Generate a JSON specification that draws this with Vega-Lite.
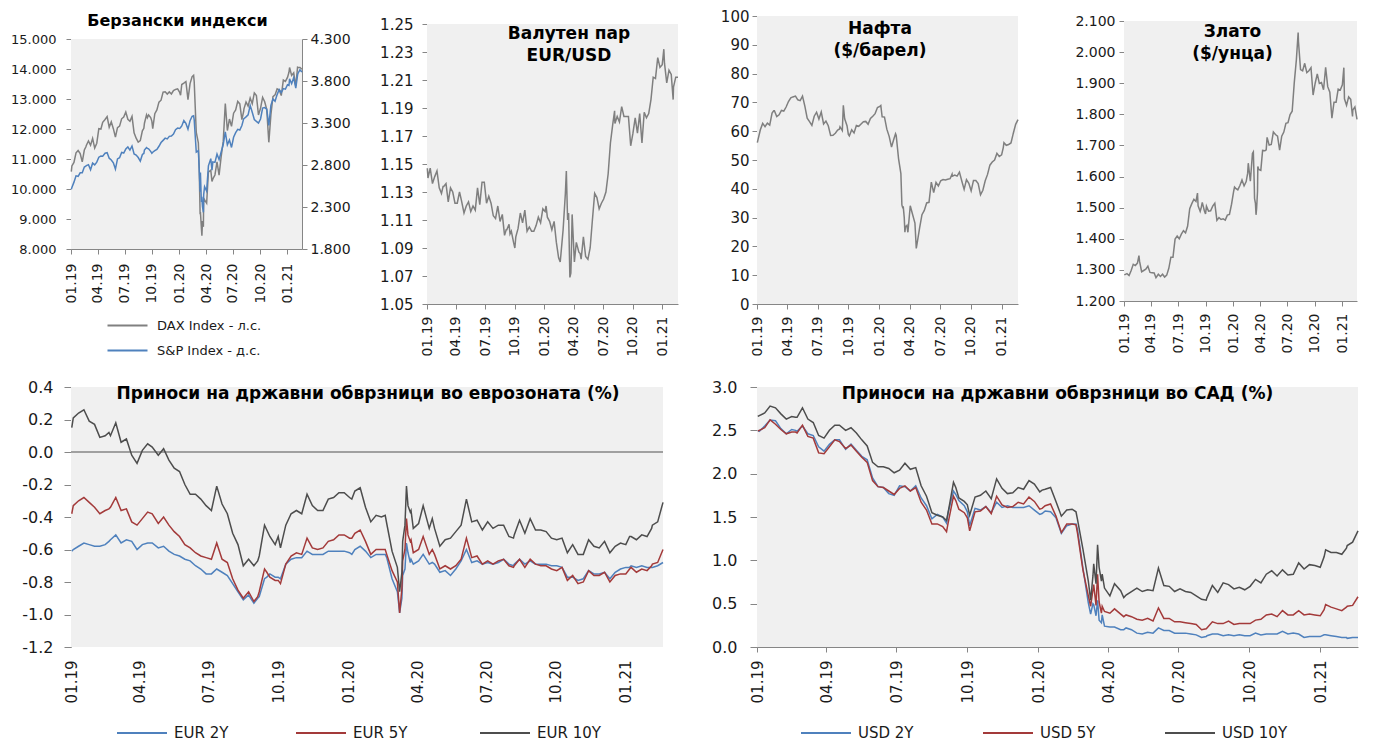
{
"$schema": "https://vega.github.io/schema/vega-lite/v6.json",
"background": "white",
"padding": {"left": 1, "top": 9, "right": 5, "bottom": 5},
"autosize": {"type": "pad"},
"data": {"values": [
{"d":"2019-01-02","dax":10580,"sp":2510,"fx":1.147,"oil":56.0,"au":1284,"e2":-0.61,"e5":-0.38,"e10":0.15,"u2":2.50,"u5":2.49,"u10":2.66},
{"d":"2019-01-04","dax":10767,"sp":2532,"fx":1.140,"oil":57.1,"au":1285,"e2":-0.60,"e5":-0.33,"e10":0.21,"u2":2.49,"u5":2.50,"u10":2.67},
{"d":"2019-01-11","dax":10888,"sp":2596,"fx":1.147,"oil":60.5,"au":1288,"e2":-0.58,"e5":-0.30,"e10":0.24,"u2":2.55,"u5":2.53,"u10":2.70},
{"d":"2019-01-18","dax":11205,"sp":2671,"fx":1.136,"oil":62.7,"au":1282,"e2":-0.56,"e5":-0.28,"e10":0.26,"u2":2.62,"u5":2.62,"u10":2.78},
{"d":"2019-01-25","dax":11281,"sp":2665,"fx":1.141,"oil":61.6,"au":1298,"e2":-0.57,"e5":-0.31,"e10":0.19,"u2":2.61,"u5":2.57,"u10":2.76},
{"d":"2019-02-01","dax":11181,"sp":2707,"fx":1.145,"oil":62.8,"au":1318,"e2":-0.58,"e5":-0.34,"e10":0.17,"u2":2.52,"u5":2.51,"u10":2.69},
{"d":"2019-02-08","dax":10906,"sp":2708,"fx":1.133,"oil":62.1,"au":1314,"e2":-0.58,"e5":-0.38,"e10":0.09,"u2":2.46,"u5":2.46,"u10":2.63},
{"d":"2019-02-15","dax":11299,"sp":2776,"fx":1.129,"oil":66.3,"au":1322,"e2":-0.57,"e5":-0.36,"e10":0.10,"u2":2.51,"u5":2.48,"u10":2.66},
{"d":"2019-02-20","dax":11401,"sp":2785,"fx":1.134,"oil":67.1,"au":1346,"e2":-0.55,"e5":-0.35,"e10":0.12,"u2":2.50,"u5":2.48,"u10":2.65},
{"d":"2019-02-22","dax":11457,"sp":2793,"fx":1.134,"oil":67.1,"au":1328,"e2":-0.54,"e5":-0.34,"e10":0.10,"u2":2.49,"u5":2.47,"u10":2.65},
{"d":"2019-03-01","dax":11602,"sp":2804,"fx":1.136,"oil":65.1,"au":1294,"e2":-0.51,"e5":-0.28,"e10":0.18,"u2":2.55,"u5":2.56,"u10":2.76},
{"d":"2019-03-08","dax":11458,"sp":2743,"fx":1.123,"oil":65.7,"au":1298,"e2":-0.56,"e5":-0.36,"e10":0.06,"u2":2.46,"u5":2.43,"u10":2.63},
{"d":"2019-03-15","dax":11686,"sp":2822,"fx":1.133,"oil":67.2,"au":1302,"e2":-0.54,"e5":-0.35,"e10":0.08,"u2":2.44,"u5":2.41,"u10":2.59},
{"d":"2019-03-22","dax":11364,"sp":2801,"fx":1.130,"oil":67.0,"au":1312,"e2":-0.55,"e5":-0.43,"e10":-0.02,"u2":2.31,"u5":2.24,"u10":2.44},
{"d":"2019-03-29","dax":11526,"sp":2834,"fx":1.122,"oil":68.4,"au":1292,"e2":-0.60,"e5":-0.45,"e10":-0.07,"u2":2.26,"u5":2.23,"u10":2.41},
{"d":"2019-04-05","dax":12010,"sp":2893,"fx":1.122,"oil":70.3,"au":1291,"e2":-0.57,"e5":-0.41,"e10":0.01,"u2":2.34,"u5":2.31,"u10":2.50},
{"d":"2019-04-12","dax":11999,"sp":2907,"fx":1.130,"oil":71.6,"au":1290,"e2":-0.56,"e5":-0.37,"e10":0.05,"u2":2.39,"u5":2.39,"u10":2.56},
{"d":"2019-04-18","dax":12222,"sp":2905,"fx":1.124,"oil":71.9,"au":1275,"e2":-0.56,"e5":-0.38,"e10":0.03,"u2":2.39,"u5":2.37,"u10":2.56},
{"d":"2019-04-26","dax":12315,"sp":2940,"fx":1.115,"oil":72.2,"au":1286,"e2":-0.59,"e5":-0.44,"e10":-0.02,"u2":2.28,"u5":2.29,"u10":2.50},
{"d":"2019-05-03","dax":12413,"sp":2946,"fx":1.120,"oil":70.9,"au":1279,"e2":-0.58,"e5":-0.40,"e10":0.02,"u2":2.34,"u5":2.33,"u10":2.53},
{"d":"2019-05-10","dax":12060,"sp":2881,"fx":1.123,"oil":70.6,"au":1286,"e2":-0.61,"e5":-0.45,"e10":-0.05,"u2":2.27,"u5":2.26,"u10":2.47},
{"d":"2019-05-17","dax":12238,"sp":2860,"fx":1.116,"oil":72.2,"au":1277,"e2":-0.63,"e5":-0.49,"e10":-0.10,"u2":2.20,"u5":2.19,"u10":2.39},
{"d":"2019-05-24","dax":12011,"sp":2826,"fx":1.120,"oil":68.7,"au":1283,"e2":-0.64,"e5":-0.52,"e10":-0.12,"u2":2.16,"u5":2.13,"u10":2.32},
{"d":"2019-05-31","dax":11727,"sp":2752,"fx":1.117,"oil":64.5,"au":1305,"e2":-0.66,"e5":-0.57,"e10":-0.20,"u2":1.95,"u5":1.92,"u10":2.13},
{"d":"2019-06-07","dax":12045,"sp":2873,"fx":1.133,"oil":63.3,"au":1341,"e2":-0.67,"e5":-0.59,"e10":-0.26,"u2":1.85,"u5":1.85,"u10":2.08},
{"d":"2019-06-14","dax":12096,"sp":2887,"fx":1.121,"oil":62.0,"au":1341,"e2":-0.70,"e5":-0.62,"e10":-0.26,"u2":1.84,"u5":1.84,"u10":2.08},
{"d":"2019-06-21","dax":12340,"sp":2950,"fx":1.137,"oil":65.2,"au":1399,"e2":-0.72,"e5":-0.64,"e10":-0.29,"u2":1.77,"u5":1.80,"u10":2.06},
{"d":"2019-06-28","dax":12399,"sp":2942,"fx":1.137,"oil":66.6,"au":1409,"e2":-0.75,"e5":-0.65,"e10":-0.33,"u2":1.75,"u5":1.76,"u10":2.01},
{"d":"2019-07-05","dax":12568,"sp":2990,"fx":1.122,"oil":64.2,"au":1400,"e2":-0.75,"e5":-0.66,"e10":-0.36,"u2":1.86,"u5":1.83,"u10":2.04},
{"d":"2019-07-12","dax":12323,"sp":3014,"fx":1.127,"oil":66.7,"au":1415,"e2":-0.72,"e5":-0.56,"e10":-0.21,"u2":1.85,"u5":1.86,"u10":2.12},
{"d":"2019-07-19","dax":12260,"sp":2977,"fx":1.122,"oil":62.5,"au":1426,"e2":-0.74,"e5":-0.66,"e10":-0.32,"u2":1.80,"u5":1.80,"u10":2.05},
{"d":"2019-07-26","dax":12419,"sp":3026,"fx":1.113,"oil":63.5,"au":1419,"e2":-0.76,"e5":-0.68,"e10":-0.38,"u2":1.86,"u5":1.84,"u10":2.07},
{"d":"2019-08-02","dax":11872,"sp":2932,"fx":1.111,"oil":61.9,"au":1441,"e2":-0.81,"e5":-0.78,"e10":-0.50,"u2":1.72,"u5":1.67,"u10":1.86},
{"d":"2019-08-09","dax":11693,"sp":2919,"fx":1.120,"oil":58.5,"au":1497,"e2":-0.86,"e5":-0.85,"e10":-0.57,"u2":1.63,"u5":1.58,"u10":1.74},
{"d":"2019-08-16","dax":11562,"sp":2889,"fx":1.109,"oil":58.6,"au":1513,"e2":-0.91,"e5":-0.90,"e10":-0.70,"u2":1.48,"u5":1.42,"u10":1.55},
{"d":"2019-08-23","dax":11612,"sp":2847,"fx":1.114,"oil":59.3,"au":1527,"e2":-0.88,"e5":-0.86,"e10":-0.66,"u2":1.53,"u5":1.42,"u10":1.52},
{"d":"2019-08-30","dax":11939,"sp":2926,"fx":1.099,"oil":60.4,"au":1520,"e2":-0.93,"e5":-0.92,"e10":-0.70,"u2":1.50,"u5":1.39,"u10":1.50},
{"d":"2019-09-04","dax":12025,"sp":2937,"fx":1.103,"oil":60.7,"au":1547,"e2":-0.90,"e5":-0.89,"e10":-0.67,"u2":1.43,"u5":1.33,"u10":1.46},
{"d":"2019-09-06","dax":12192,"sp":2979,"fx":1.103,"oil":61.5,"au":1506,"e2":-0.89,"e5":-0.86,"e10":-0.64,"u2":1.55,"u5":1.43,"u10":1.55},
{"d":"2019-09-13","dax":12469,"sp":3007,"fx":1.107,"oil":60.2,"au":1488,"e2":-0.78,"e5":-0.72,"e10":-0.45,"u2":1.80,"u5":1.74,"u10":1.90},
{"d":"2019-09-16","dax":12380,"sp":2998,"fx":1.100,"oil":69.0,"au":1498,"e2":-0.77,"e5":-0.74,"e10":-0.48,"u2":1.76,"u5":1.69,"u10":1.84},
{"d":"2019-09-20","dax":12468,"sp":2992,"fx":1.102,"oil":64.3,"au":1517,"e2":-0.75,"e5":-0.77,"e10":-0.52,"u2":1.69,"u5":1.59,"u10":1.72},
{"d":"2019-09-27","dax":12381,"sp":2962,"fx":1.094,"oil":61.9,"au":1490,"e2":-0.77,"e5":-0.79,"e10":-0.57,"u2":1.63,"u5":1.55,"u10":1.68},
{"d":"2019-10-01","dax":12263,"sp":2940,"fx":1.090,"oil":58.9,"au":1480,"e2":-0.77,"e5":-0.79,"e10":-0.52,"u2":1.56,"u5":1.49,"u10":1.64},
{"d":"2019-10-04","dax":12013,"sp":2952,"fx":1.098,"oil":58.4,"au":1505,"e2":-0.78,"e5":-0.81,"e10":-0.59,"u2":1.40,"u5":1.34,"u10":1.52},
{"d":"2019-10-11","dax":12512,"sp":2970,"fx":1.104,"oil":60.5,"au":1489,"e2":-0.69,"e5":-0.69,"e10":-0.45,"u2":1.60,"u5":1.56,"u10":1.73},
{"d":"2019-10-18","dax":12634,"sp":2986,"fx":1.115,"oil":59.4,"au":1490,"e2":-0.66,"e5":-0.64,"e10":-0.38,"u2":1.58,"u5":1.57,"u10":1.75},
{"d":"2019-10-25","dax":12895,"sp":3023,"fx":1.108,"oil":62.0,"au":1505,"e2":-0.65,"e5":-0.62,"e10":-0.36,"u2":1.62,"u5":1.62,"u10":1.80},
{"d":"2019-11-01","dax":12961,"sp":3067,"fx":1.117,"oil":61.7,"au":1514,"e2":-0.65,"e5":-0.63,"e10":-0.38,"u2":1.55,"u5":1.54,"u10":1.71},
{"d":"2019-11-08","dax":13229,"sp":3093,"fx":1.102,"oil":62.5,"au":1459,"e2":-0.61,"e5":-0.53,"e10":-0.26,"u2":1.67,"u5":1.74,"u10":1.94},
{"d":"2019-11-15","dax":13242,"sp":3120,"fx":1.105,"oil":63.3,"au":1468,"e2":-0.63,"e5":-0.59,"e10":-0.33,"u2":1.61,"u5":1.64,"u10":1.83},
{"d":"2019-11-22","dax":13164,"sp":3110,"fx":1.102,"oil":63.4,"au":1462,"e2":-0.63,"e5":-0.60,"e10":-0.36,"u2":1.63,"u5":1.61,"u10":1.77},
{"d":"2019-11-29","dax":13236,"sp":3141,"fx":1.102,"oil":62.4,"au":1464,"e2":-0.63,"e5":-0.59,"e10":-0.36,"u2":1.61,"u5":1.62,"u10":1.78},
{"d":"2019-12-06","dax":13167,"sp":3146,"fx":1.106,"oil":64.4,"au":1460,"e2":-0.61,"e5":-0.55,"e10":-0.29,"u2":1.61,"u5":1.67,"u10":1.84},
{"d":"2019-12-13","dax":13283,"sp":3169,"fx":1.112,"oil":65.2,"au":1476,"e2":-0.61,"e5":-0.54,"e10":-0.28,"u2":1.61,"u5":1.65,"u10":1.82},
{"d":"2019-12-20","dax":13319,"sp":3221,"fx":1.108,"oil":66.1,"au":1478,"e2":-0.61,"e5":-0.51,"e10":-0.25,"u2":1.63,"u5":1.73,"u10":1.92},
{"d":"2019-12-27","dax":13337,"sp":3240,"fx":1.118,"oil":68.2,"au":1511,"e2":-0.61,"e5":-0.51,"e10":-0.25,"u2":1.58,"u5":1.68,"u10":1.88},
{"d":"2020-01-03","dax":13219,"sp":3235,"fx":1.116,"oil":68.6,"au":1552,"e2":-0.62,"e5":-0.53,"e10":-0.28,"u2":1.53,"u5":1.59,"u10":1.79},
{"d":"2020-01-06","dax":13127,"sp":3246,"fx":1.120,"oil":68.9,"au":1566,"e2":-0.63,"e5":-0.53,"e10":-0.29,"u2":1.54,"u5":1.60,"u10":1.81},
{"d":"2020-01-10","dax":13483,"sp":3265,"fx":1.112,"oil":65.0,"au":1562,"e2":-0.60,"e5":-0.50,"e10":-0.24,"u2":1.57,"u5":1.63,"u10":1.82},
{"d":"2020-01-17","dax":13526,"sp":3330,"fx":1.109,"oil":64.9,"au":1557,"e2":-0.58,"e5":-0.48,"e10":-0.22,"u2":1.56,"u5":1.65,"u10":1.84},
{"d":"2020-01-24","dax":13577,"sp":3295,"fx":1.103,"oil":60.7,"au":1571,"e2":-0.61,"e5":-0.55,"e10":-0.34,"u2":1.49,"u5":1.51,"u10":1.68},
{"d":"2020-01-31","dax":12982,"sp":3226,"fx":1.109,"oil":58.2,"au":1589,"e2":-0.65,"e5":-0.63,"e10":-0.43,"u2":1.31,"u5":1.32,"u10":1.51},
{"d":"2020-02-07","dax":13514,"sp":3328,"fx":1.094,"oil":54.5,"au":1570,"e2":-0.63,"e5":-0.60,"e10":-0.39,"u2":1.40,"u5":1.42,"u10":1.58},
{"d":"2020-02-14","dax":13745,"sp":3380,"fx":1.083,"oil":57.3,"au":1584,"e2":-0.63,"e5":-0.60,"e10":-0.40,"u2":1.42,"u5":1.42,"u10":1.59},
{"d":"2020-02-19","dax":13789,"sp":3386,"fx":1.080,"oil":59.1,"au":1611,"e2":-0.63,"e5":-0.60,"e10":-0.39,"u2":1.42,"u5":1.41,"u10":1.56},
{"d":"2020-02-21","dax":13579,"sp":3338,"fx":1.085,"oil":58.5,"au":1643,"e2":-0.65,"e5":-0.63,"e10":-0.44,"u2":1.35,"u5":1.31,"u10":1.47},
{"d":"2020-02-28","dax":11890,"sp":2954,"fx":1.103,"oil":50.5,"au":1585,"e2":-0.78,"e5":-0.73,"e10":-0.61,"u2":0.91,"u5":0.89,"u10":1.13},
{"d":"2020-03-06","dax":11542,"sp":2972,"fx":1.129,"oil":45.3,"au":1674,"e2":-0.86,"e5":-0.80,"e10":-0.71,"u2":0.51,"u5":0.59,"u10":0.76},
{"d":"2020-03-09","dax":10625,"sp":2747,"fx":1.145,"oil":34.4,"au":1679,"e2":-0.99,"e5":-0.99,"e10":-0.86,"u2":0.38,"u5":0.47,"u10":0.54},
{"d":"2020-03-12","dax":9161,"sp":2481,"fx":1.118,"oil":33.2,"au":1576,"e2":-0.90,"e5":-0.84,"e10":-0.74,"u2":0.50,"u5":0.66,"u10":0.82},
{"d":"2020-03-13","dax":9232,"sp":2711,"fx":1.110,"oil":33.9,"au":1530,"e2":-0.76,"e5":-0.67,"e10":-0.55,"u2":0.49,"u5":0.72,"u10":0.96},
{"d":"2020-03-16","dax":8742,"sp":2386,"fx":1.115,"oil":30.1,"au":1514,"e2":-0.72,"e5":-0.60,"e10":-0.45,"u2":0.36,"u5":0.48,"u10":0.73},
{"d":"2020-03-18","dax":8442,"sp":2398,"fx":1.092,"oil":24.9,"au":1477,"e2":-0.56,"e5":-0.41,"e10":-0.21,"u2":0.54,"u5":0.84,"u10":1.18},
{"d":"2020-03-20","dax":8929,"sp":2305,"fx":1.069,"oil":27.0,"au":1498,"e2":-0.62,"e5":-0.51,"e10":-0.33,"u2":0.31,"u5":0.52,"u10":0.92},
{"d":"2020-03-23","dax":8741,"sp":2237,"fx":1.072,"oil":27.0,"au":1553,"e2":-0.68,"e5":-0.55,"e10":-0.37,"u2":0.28,"u5":0.39,"u10":0.76},
{"d":"2020-03-24","dax":9700,"sp":2447,"fx":1.080,"oil":27.2,"au":1632,"e2":-0.66,"e5":-0.54,"e10":-0.36,"u2":0.37,"u5":0.47,"u10":0.84},
{"d":"2020-03-27","dax":9633,"sp":2541,"fx":1.114,"oil":24.9,"au":1623,"e2":-0.69,"e5":-0.62,"e10":-0.47,"u2":0.24,"u5":0.41,"u10":0.68},
{"d":"2020-04-03","dax":9526,"sp":2489,"fx":1.080,"oil":34.1,"au":1620,"e2":-0.67,"e5":-0.60,"e10":-0.44,"u2":0.23,"u5":0.39,"u10":0.59},
{"d":"2020-04-09","dax":10565,"sp":2790,"fx":1.094,"oil":31.5,"au":1684,"e2":-0.63,"e5":-0.52,"e10":-0.33,"u2":0.23,"u5":0.44,"u10":0.73},
{"d":"2020-04-17","dax":10626,"sp":2875,"fx":1.087,"oil":28.1,"au":1683,"e2":-0.69,"e5":-0.63,"e10":-0.47,"u2":0.20,"u5":0.38,"u10":0.65},
{"d":"2020-04-21","dax":10249,"sp":2737,"fx":1.086,"oil":19.3,"au":1686,"e2":-0.68,"e5":-0.60,"e10":-0.41,"u2":0.20,"u5":0.35,"u10":0.57},
{"d":"2020-04-24","dax":10336,"sp":2837,"fx":1.082,"oil":21.4,"au":1726,"e2":-0.69,"e5":-0.63,"e10":-0.47,"u2":0.22,"u5":0.37,"u10":0.60},
{"d":"2020-05-01","dax":10467,"sp":2831,"fx":1.098,"oil":26.4,"au":1701,"e2":-0.74,"e5":-0.72,"e10":-0.58,"u2":0.20,"u5":0.35,"u10":0.64},
{"d":"2020-05-08","dax":10904,"sp":2930,"fx":1.084,"oil":31.0,"au":1703,"e2":-0.73,"e5":-0.70,"e10":-0.54,"u2":0.16,"u5":0.32,"u10":0.68},
{"d":"2020-05-15","dax":10465,"sp":2864,"fx":1.082,"oil":32.5,"au":1743,"e2":-0.76,"e5":-0.72,"e10":-0.53,"u2":0.15,"u5":0.31,"u10":0.64},
{"d":"2020-05-22","dax":11074,"sp":2955,"fx":1.090,"oil":35.1,"au":1735,"e2":-0.72,"e5":-0.70,"e10":-0.49,"u2":0.17,"u5":0.33,"u10":0.66},
{"d":"2020-05-29","dax":11587,"sp":3044,"fx":1.110,"oil":35.3,"au":1730,"e2":-0.67,"e5":-0.66,"e10":-0.45,"u2":0.16,"u5":0.30,"u10":0.65},
{"d":"2020-06-05","dax":12848,"sp":3194,"fx":1.129,"oil":42.3,"au":1685,"e2":-0.60,"e5":-0.53,"e10":-0.29,"u2":0.22,"u5":0.45,"u10":0.91},
{"d":"2020-06-12","dax":11949,"sp":3041,"fx":1.126,"oil":38.7,"au":1730,"e2":-0.68,"e5":-0.65,"e10":-0.43,"u2":0.19,"u5":0.33,"u10":0.71},
{"d":"2020-06-19","dax":12331,"sp":3098,"fx":1.118,"oil":42.2,"au":1743,"e2":-0.67,"e5":-0.64,"e10":-0.42,"u2":0.19,"u5":0.33,"u10":0.70},
{"d":"2020-06-26","dax":12089,"sp":3009,"fx":1.122,"oil":41.0,"au":1771,"e2":-0.69,"e5":-0.69,"e10":-0.48,"u2":0.16,"u5":0.29,"u10":0.64},
{"d":"2020-07-03","dax":12528,"sp":3130,"fx":1.125,"oil":42.8,"au":1773,"e2":-0.68,"e5":-0.67,"e10":-0.43,"u2":0.16,"u5":0.29,"u10":0.67},
{"d":"2020-07-10","dax":12633,"sp":3185,"fx":1.130,"oil":43.2,"au":1799,"e2":-0.69,"e5":-0.69,"e10":-0.47,"u2":0.16,"u5":0.28,"u10":0.64},
{"d":"2020-07-17","dax":12920,"sp":3225,"fx":1.143,"oil":43.1,"au":1810,"e2":-0.68,"e5":-0.67,"e10":-0.45,"u2":0.15,"u5":0.27,"u10":0.63},
{"d":"2020-07-24","dax":12838,"sp":3216,"fx":1.165,"oil":43.3,"au":1902,"e2":-0.66,"e5":-0.66,"e10":-0.45,"u2":0.14,"u5":0.26,"u10":0.59},
{"d":"2020-07-31","dax":12313,"sp":3271,"fx":1.178,"oil":43.5,"au":1975,"e2":-0.69,"e5":-0.70,"e10":-0.52,"u2":0.11,"u5":0.20,"u10":0.55},
{"d":"2020-08-06","dax":12591,"sp":3349,"fx":1.188,"oil":45.1,"au":2063,"e2":-0.70,"e5":-0.71,"e10":-0.53,"u2":0.12,"u5":0.21,"u10":0.54},
{"d":"2020-08-07","dax":12674,"sp":3351,"fx":1.179,"oil":44.4,"au":2035,"e2":-0.69,"e5":-0.70,"e10":-0.51,"u2":0.13,"u5":0.22,"u10":0.57},
{"d":"2020-08-14","dax":12901,"sp":3373,"fx":1.184,"oil":44.8,"au":1944,"e2":-0.66,"e5":-0.66,"e10":-0.42,"u2":0.15,"u5":0.29,"u10":0.71},
{"d":"2020-08-21","dax":12765,"sp":3397,"fx":1.180,"oil":44.4,"au":1940,"e2":-0.69,"e5":-0.71,"e10":-0.50,"u2":0.15,"u5":0.27,"u10":0.63},
{"d":"2020-08-28","dax":13033,"sp":3508,"fx":1.191,"oil":45.8,"au":1964,"e2":-0.67,"e5":-0.66,"e10":-0.41,"u2":0.13,"u5":0.27,"u10":0.74},
{"d":"2020-09-04","dax":12842,"sp":3427,"fx":1.184,"oil":42.7,"au":1934,"e2":-0.69,"e5":-0.69,"e10":-0.48,"u2":0.14,"u5":0.30,"u10":0.72},
{"d":"2020-09-11","dax":13203,"sp":3341,"fx":1.184,"oil":39.8,"au":1940,"e2":-0.69,"e5":-0.70,"e10":-0.48,"u2":0.13,"u5":0.26,"u10":0.67},
{"d":"2020-09-18","dax":13116,"sp":3319,"fx":1.184,"oil":43.2,"au":1950,"e2":-0.69,"e5":-0.70,"e10":-0.49,"u2":0.14,"u5":0.27,"u10":0.69},
{"d":"2020-09-25","dax":12469,"sp":3298,"fx":1.163,"oil":41.9,"au":1862,"e2":-0.70,"e5":-0.72,"e10":-0.53,"u2":0.13,"u5":0.27,"u10":0.66},
{"d":"2020-10-02","dax":12689,"sp":3348,"fx":1.172,"oil":39.3,"au":1900,"e2":-0.70,"e5":-0.73,"e10":-0.54,"u2":0.13,"u5":0.27,"u10":0.70},
{"d":"2020-10-09","dax":13051,"sp":3477,"fx":1.183,"oil":42.9,"au":1930,"e2":-0.71,"e5":-0.71,"e10":-0.53,"u2":0.16,"u5":0.31,"u10":0.78},
{"d":"2020-10-16","dax":12909,"sp":3484,"fx":1.172,"oil":42.9,"au":1899,"e2":-0.77,"e5":-0.79,"e10":-0.62,"u2":0.14,"u5":0.32,"u10":0.74},
{"d":"2020-10-23","dax":12646,"sp":3465,"fx":1.186,"oil":41.8,"au":1902,"e2":-0.77,"e5":-0.76,"e10":-0.57,"u2":0.15,"u5":0.37,"u10":0.84},
{"d":"2020-10-30","dax":11556,"sp":3270,"fx":1.165,"oil":37.9,"au":1879,"e2":-0.79,"e5":-0.81,"e10":-0.63,"u2":0.15,"u5":0.38,"u10":0.88},
{"d":"2020-11-06","dax":12480,"sp":3510,"fx":1.187,"oil":39.5,"au":1951,"e2":-0.78,"e5":-0.80,"e10":-0.63,"u2":0.15,"u5":0.35,"u10":0.82},
{"d":"2020-11-13","dax":13077,"sp":3585,"fx":1.183,"oil":42.8,"au":1889,"e2":-0.73,"e5":-0.73,"e10":-0.54,"u2":0.18,"u5":0.42,"u10":0.89},
{"d":"2020-11-20","dax":13137,"sp":3558,"fx":1.186,"oil":45.0,"au":1871,"e2":-0.75,"e5":-0.76,"e10":-0.58,"u2":0.15,"u5":0.37,"u10":0.83},
{"d":"2020-11-27","dax":13335,"sp":3638,"fx":1.196,"oil":48.2,"au":1788,"e2":-0.75,"e5":-0.76,"e10":-0.59,"u2":0.16,"u5":0.37,"u10":0.84},
{"d":"2020-12-04","dax":13298,"sp":3699,"fx":1.212,"oil":49.3,"au":1839,"e2":-0.74,"e5":-0.74,"e10":-0.55,"u2":0.15,"u5":0.42,"u10":0.97},
{"d":"2020-12-11","dax":13114,"sp":3663,"fx":1.211,"oil":50.0,"au":1839,"e2":-0.78,"e5":-0.80,"e10":-0.62,"u2":0.11,"u5":0.37,"u10":0.90},
{"d":"2020-12-18","dax":13631,"sp":3709,"fx":1.226,"oil":52.3,"au":1881,"e2":-0.74,"e5":-0.76,"e10":-0.58,"u2":0.12,"u5":0.38,"u10":0.95},
{"d":"2020-12-25","dax":13587,"sp":3703,"fx":1.219,"oil":51.2,"au":1878,"e2":-0.72,"e5":-0.75,"e10":-0.56,"u2":0.12,"u5":0.37,"u10":0.94},
{"d":"2021-01-01","dax":13719,"sp":3756,"fx":1.221,"oil":51.8,"au":1895,"e2":-0.71,"e5":-0.75,"e10":-0.57,"u2":0.12,"u5":0.36,"u10":0.92},
{"d":"2021-01-06","dax":13892,"sp":3748,"fx":1.232,"oil":54.3,"au":1950,"e2":-0.71,"e5":-0.72,"e10":-0.52,"u2":0.14,"u5":0.43,"u10":1.04},
{"d":"2021-01-08","dax":14050,"sp":3825,"fx":1.222,"oil":56.0,"au":1850,"e2":-0.70,"e5":-0.71,"e10":-0.52,"u2":0.14,"u5":0.49,"u10":1.12},
{"d":"2021-01-15","dax":13787,"sp":3768,"fx":1.208,"oil":55.1,"au":1829,"e2":-0.71,"e5":-0.74,"e10":-0.54,"u2":0.13,"u5":0.46,"u10":1.09},
{"d":"2021-01-22","dax":13873,"sp":3841,"fx":1.217,"oil":55.4,"au":1856,"e2":-0.70,"e5":-0.72,"e10":-0.51,"u2":0.12,"u5":0.44,"u10":1.09},
{"d":"2021-01-29","dax":13433,"sp":3714,"fx":1.214,"oil":55.9,"au":1848,"e2":-0.71,"e5":-0.73,"e10":-0.52,"u2":0.11,"u5":0.42,"u10":1.07},
{"d":"2021-02-04","dax":14060,"sp":3871,"fx":1.196,"oil":58.8,"au":1793,"e2":-0.71,"e5":-0.70,"e10":-0.47,"u2":0.11,"u5":0.46,"u10":1.14},
{"d":"2021-02-05","dax":14057,"sp":3887,"fx":1.205,"oil":59.3,"au":1814,"e2":-0.71,"e5":-0.69,"e10":-0.45,"u2":0.10,"u5":0.47,"u10":1.17},
{"d":"2021-02-12","dax":14050,"sp":3934,"fx":1.212,"oil":62.4,"au":1824,"e2":-0.70,"e5":-0.68,"e10":-0.43,"u2":0.11,"u5":0.48,"u10":1.21},
{"d":"2021-02-19","dax":13993,"sp":3907,"fx":1.212,"oil":64.0,"au":1784,"e2":-0.68,"e5":-0.60,"e10":-0.31,"u2":0.11,"u5":0.58,"u10":1.34}
]},
"config": {
  "view": {"fill": null, "stroke": null},
  "font": "DejaVu Sans",
  "axis": {"grid": false, "domainColor": "#868686", "tickColor": "#868686", "tickSize": 5, "labelFont": "DejaVu Sans", "labelFontSize": 14, "labelColor": "#1a1a1a", "labelFlush": false, "labelOverlap": false, "labelPadding": 3},
  "title": {"font": "DejaVu Sans", "fontWeight": "bold", "fontSize": 17, "color": "#000000", "anchor": "middle", "frame": "group", "lineHeight": 22},
  "legend": {"labelFont": "DejaVu Sans", "labelFontSize": 13, "labelColor": "#1a1a1a", "symbolStrokeWidth": 2, "title": null, "padding": 0}
},
"spacing": 21,
"resolve": {"scale": {"color": "independent"}},
"vconcat": [
 {"hconcat": [
 {"width": 301, "height": 233,
  "title": {"text": "Берзански индекси", "offset": -13, "dx": 26, "fontSize": 16},
  "layer": [
    {"layer": [
      {"data": {"values": [{"a": 0}]}, "mark": {"type": "rect", "color": "#f0f0f0"},
       "encoding": {
         "x": {"datum": {"year": 2019, "month": 1, "date": 1}, "type": "temporal", "scale": {"domain": [{"year": 2019, "month": 1, "date": 1}, {"year": 2021, "month": 2, "date": 19}], "range": [70, 301]}, "axis": {"title": null, "format": "%m.%y", "tickCount": {"interval": "month", "step": 3}, "labelAngle": 270, "labelPadding": 9, "labelOverlap": false}},
         "x2": {"datum": {"year": 2021, "month": 2, "date": 19}},
         "y": {"datum": 8000, "type": "quantitative", "scale": {"domain": [8000, 15000], "range": [233, 23], "nice": false, "zero": false}, "axis": {"title": null, "offset": -70, "values": [8000, 9000, 10000, 11000, 12000, 13000, 14000, 15000], "labelExpr": "replace(format(datum.value, ',.0f'), ',', '.')", "labelFontSize": 13, "labelPadding": 10, "labelOverlap": false}},
         "y2": {"datum": 15000}
       }},
      {"mark": {"type": "line", "strokeWidth": 1.5},
       "encoding": {
         "x": {"field": "d", "type": "temporal", "scale": {"domain": [{"year": 2019, "month": 1, "date": 1}, {"year": 2021, "month": 2, "date": 19}], "range": [70, 301]}, "axis": {"title": null, "format": "%m.%y", "tickCount": {"interval": "month", "step": 3}, "labelAngle": 270, "labelPadding": 9, "labelOverlap": false}},
         "y": {"field": "dax", "type": "quantitative", "scale": {"domain": [8000, 15000], "range": [233, 23], "nice": false, "zero": false}, "axis": {"title": null, "offset": -70, "values": [8000, 9000, 10000, 11000, 12000, 13000, 14000, 15000], "labelExpr": "replace(format(datum.value, ',.0f'), ',', '.')", "labelFontSize": 13, "labelPadding": 10, "labelOverlap": false}},
         "color": {"datum": "DAX Index - л.с.", "type": "nominal", "scale": {"domain": ["DAX Index - л.с.", "S&P Index - д.с."], "range": ["#808080", "#4f81bd"]},
           "legend": {"orient": "none", "legendX": 113, "legendY": 296, "direction": "vertical", "symbolType": "M-1.6,0H1.6", "symbolSize": 625, "labelOffset": 16, "rowPadding": 4}}
       }}
    ]},
    {"mark": {"type": "line", "strokeWidth": 1.5},
     "encoding": {
       "x": {"field": "d", "type": "temporal"},
       "y": {"field": "sp", "type": "quantitative", "scale": {"domain": [1800, 4300], "range": [233, 23], "nice": false, "zero": false}, "axis": {"title": null, "orient": "right", "values": [1800, 2300, 2800, 3300, 3800, 4300], "labelExpr": "replace(format(datum.value, ',.0f'), ',', '.')", "labelPadding": 3, "labelOverlap": false}},
       "color": {"datum": "S&P Index - д.с.", "type": "nominal"}
     }}
  ],
  "resolve": {"scale": {"y": "independent"}}
 },
 {"width": 356, "height": 288,
  "title": {"text": ["Валутен пар", "EUR/USD"], "offset": -49, "dx": 69},
  "layer": [
    {"data": {"values": [{"a": 0}]}, "mark": {"type": "rect", "color": "#f0f0f0"},
     "encoding": {
       "x": {"datum": {"year": 2019, "month": 1, "date": 1}, "type": "temporal", "scale": {"domain": [{"year": 2019, "month": 1, "date": 1}, {"year": 2021, "month": 2, "date": 19}], "range": [105, 356]}, "axis": {"title": null, "format": "%m.%y", "tickCount": {"interval": "month", "step": 3}, "labelAngle": 270, "labelPadding": 7, "labelOverlap": false}},
       "x2": {"datum": {"year": 2021, "month": 2, "date": 19}},
       "y": {"datum": 1.05, "type": "quantitative", "scale": {"domain": [1.05, 1.25], "range": [288, 8], "nice": false, "zero": false}, "axis": {"title": null, "offset": -105, "values": [1.05, 1.07, 1.09, 1.11, 1.13, 1.15, 1.17, 1.19, 1.21, 1.23, 1.25], "format": ".2f", "labelFontSize": 15, "labelPadding": 9, "labelOverlap": false}},
       "y2": {"datum": 1.25}
     }},
    {"mark": {"type": "line", "strokeWidth": 1.5, "color": "#7f7f7f"},
     "encoding": {
       "x": {"field": "d", "type": "temporal", "scale": {"domain": [{"year": 2019, "month": 1, "date": 1}, {"year": 2021, "month": 2, "date": 19}], "range": [105, 356]}, "axis": {"title": null, "format": "%m.%y", "tickCount": {"interval": "month", "step": 3}, "labelAngle": 270, "labelPadding": 7, "labelOverlap": false}},
       "y": {"field": "fx", "type": "quantitative", "scale": {"domain": [1.05, 1.25], "range": [288, 8], "nice": false, "zero": false}, "axis": {"title": null, "offset": -105, "values": [1.05, 1.07, 1.09, 1.11, 1.13, 1.15, 1.17, 1.19, 1.21, 1.23, 1.25], "format": ".2f", "labelFontSize": 15, "labelPadding": 9, "labelOverlap": false}}
     }}
  ]
 },
 {"width": 320, "height": 288,
  "title": {"text": ["Нафта", "($/барел)"], "offset": -51, "dx": 22},
  "layer": [
    {"data": {"values": [{"a": 0}]}, "mark": {"type": "rect", "color": "#f0f0f0"},
     "encoding": {
       "x": {"datum": {"year": 2019, "month": 1, "date": 1}, "type": "temporal", "scale": {"domain": [{"year": 2019, "month": 1, "date": 1}, {"year": 2021, "month": 2, "date": 19}], "range": [59, 320]}, "axis": {"title": null, "format": "%m.%y", "tickCount": {"interval": "month", "step": 3}, "labelAngle": 270, "labelPadding": 7, "labelOverlap": false}},
       "x2": {"datum": {"year": 2021, "month": 2, "date": 19}},
       "y": {"datum": 0, "type": "quantitative", "scale": {"domain": [0, 100], "nice": false}, "axis": {"title": null, "offset": -59, "values": [0, 10, 20, 30, 40, 50, 60, 70, 80, 90, 100], "labelFontSize": 15, "labelPadding": 3, "labelOverlap": false}},
       "y2": {"datum": 100}
     }},
    {"mark": {"type": "line", "strokeWidth": 1.5, "color": "#7f7f7f"},
     "encoding": {
       "x": {"field": "d", "type": "temporal", "scale": {"domain": [{"year": 2019, "month": 1, "date": 1}, {"year": 2021, "month": 2, "date": 19}], "range": [59, 320]}, "axis": {"title": null, "format": "%m.%y", "tickCount": {"interval": "month", "step": 3}, "labelAngle": 270, "labelPadding": 7, "labelOverlap": false}},
       "y": {"field": "oil", "type": "quantitative", "scale": {"domain": [0, 100], "nice": false}, "axis": {"title": null, "offset": -59, "values": [0, 10, 20, 30, 40, 50, 60, 70, 80, 90, 100], "labelFontSize": 15, "labelPadding": 3, "labelOverlap": false}}
     }}
  ]
 },
 {"width": 319, "height": 285,
  "title": {"text": ["Злато", "($/унца)"], "offset": -49, "dx": 35},
  "layer": [
    {"data": {"values": [{"a": 0}]}, "mark": {"type": "rect", "color": "#f0f0f0"},
     "encoding": {
       "x": {"datum": {"year": 2019, "month": 1, "date": 1}, "type": "temporal", "scale": {"domain": [{"year": 2019, "month": 1, "date": 1}, {"year": 2021, "month": 2, "date": 19}], "range": [86, 319]}, "axis": {"title": null, "format": "%m.%y", "tickCount": {"interval": "month", "step": 3}, "labelAngle": 270, "labelPadding": 7, "labelOverlap": false}},
       "x2": {"datum": {"year": 2021, "month": 2, "date": 19}},
       "y": {"datum": 1200, "type": "quantitative", "scale": {"domain": [1200, 2100], "range": [285, 5], "nice": false, "zero": false}, "axis": {"title": null, "offset": -86, "values": [1200, 1300, 1400, 1500, 1600, 1700, 1800, 1900, 2000, 2100], "labelExpr": "replace(format(datum.value, ',.0f'), ',', '.')", "labelPadding": 4, "labelOverlap": false}},
       "y2": {"datum": 2100}
     }},
    {"mark": {"type": "line", "strokeWidth": 1.5, "color": "#7f7f7f"},
     "encoding": {
       "x": {"field": "d", "type": "temporal", "scale": {"domain": [{"year": 2019, "month": 1, "date": 1}, {"year": 2021, "month": 2, "date": 19}], "range": [86, 319]}, "axis": {"title": null, "format": "%m.%y", "tickCount": {"interval": "month", "step": 3}, "labelAngle": 270, "labelPadding": 7, "labelOverlap": false}},
       "y": {"field": "au", "type": "quantitative", "scale": {"domain": [1200, 2100], "range": [285, 5], "nice": false, "zero": false}, "axis": {"title": null, "offset": -86, "values": [1200, 1300, 1400, 1500, 1600, 1700, 1800, 1900, 2000, 2100], "labelExpr": "replace(format(datum.value, ',.0f'), ',', '.')", "labelPadding": 4, "labelOverlap": false}}
     }}
  ]
 }
 ], "spacing": 20, "bounds": "flush", "resolve": {"scale": {"color": "independent"}}},
 {"hconcat": [
 {"width": 662, "height": 260,
  "title": {"text": "Приноси на државни обврзници во еврозоната (%)", "offset": -24, "dx": 36},
  "layer": [
    {"data": {"values": [{"a": 0}]}, "mark": {"type": "rect", "color": "#f0f0f0"},
     "encoding": {
       "x": {"datum": {"year": 2019, "month": 1, "date": 1}, "type": "temporal", "scale": {"domain": [{"year": 2019, "month": 1, "date": 1}, {"year": 2021, "month": 2, "date": 19}], "range": [70, 662]}, "axis": {"title": null, "format": "%m.%y", "tickCount": {"interval": "month", "step": 3}, "labelAngle": 270, "labelPadding": 13, "domain": false, "ticks": false, "labelFontSize": 15, "labelOverlap": false}},
       "x2": {"datum": {"year": 2021, "month": 2, "date": 19}},
       "y": {"datum": -1.2, "type": "quantitative", "scale": {"domain": [-1.2, 0.4], "nice": false, "zero": false}, "axis": {"title": null, "offset": -70, "values": [-1.2, -1.0, -0.8, -0.6, -0.4, -0.2, 0, 0.2, 0.4], "labelExpr": "replace(format(datum.value, '.1f'), '−', '-')", "labelFontSize": 16, "tickSize": 7, "labelPadding": 11, "labelOverlap": false}},
       "y2": {"datum": 0.4}
     }},
    {"data": {"values": [{"z": 0}]}, "mark": {"type": "rule", "color": "#868686", "strokeWidth": 1.5},
     "encoding": {
       "x": {"datum": {"year": 2019, "month": 1, "date": 1}, "type": "temporal", "scale": {"domain": [{"year": 2019, "month": 1, "date": 1}, {"year": 2021, "month": 2, "date": 19}], "range": [70, 662]}, "axis": {"title": null, "format": "%m.%y", "tickCount": {"interval": "month", "step": 3}, "labelAngle": 270, "labelPadding": 13, "domain": false, "ticks": false, "labelFontSize": 15, "labelOverlap": false}},
       "x2": {"datum": {"year": 2021, "month": 2, "date": 19}},
       "y": {"field": "z", "type": "quantitative", "scale": {"domain": [-1.2, 0.4], "nice": false, "zero": false}, "axis": {"title": null, "offset": -70, "values": [-1.2, -1.0, -0.8, -0.6, -0.4, -0.2, 0, 0.2, 0.4], "labelExpr": "replace(format(datum.value, '.1f'), '−', '-')", "labelFontSize": 16, "tickSize": 7, "labelPadding": 11, "labelOverlap": false}}
     }},
    {"transform": [{"fold": ["e2", "e5", "e10"], "as": ["k", "v"]}],
     "mark": {"type": "line", "strokeWidth": 1.5},
     "encoding": {
       "x": {"field": "d", "type": "temporal", "scale": {"domain": [{"year": 2019, "month": 1, "date": 1}, {"year": 2021, "month": 2, "date": 19}], "range": [70, 662]}, "axis": {"title": null, "format": "%m.%y", "tickCount": {"interval": "month", "step": 3}, "labelAngle": 270, "labelPadding": 13, "domain": false, "ticks": false, "labelFontSize": 15, "labelOverlap": false}},
       "y": {"field": "v", "type": "quantitative", "scale": {"domain": [-1.2, 0.4], "nice": false, "zero": false}, "axis": {"title": null, "offset": -70, "values": [-1.2, -1.0, -0.8, -0.6, -0.4, -0.2, 0, 0.2, 0.4], "labelExpr": "replace(format(datum.value, '.1f'), '−', '-')", "labelFontSize": 16, "tickSize": 7, "labelPadding": 11, "labelOverlap": false}},
       "color": {"field": "k", "type": "nominal", "scale": {"domain": ["e2", "e5", "e10"], "range": ["#4f81bd", "#a33a3a", "#4d4d4d"]},
         "legend": {"orient": "none", "legendX": 115, "legendY": 320, "direction": "horizontal", "symbolSize": 2500, "labelFontSize": 15, "labelOffset": 6, "columnPadding": 63, "labelExpr": "{'e2': 'EUR 2Y', 'e5': 'EUR  5Y', 'e10': 'EUR 10Y'}[datum.value]"}}
     }}
  ]
 },
 {"width": 675, "height": 260,
  "title": {"text": "Приноси на државни обврзници во САД (%)", "offset": -24, "dx": 37},
  "layer": [
    {"data": {"values": [{"a": 0}]}, "mark": {"type": "rect", "color": "#f0f0f0"},
     "encoding": {
       "x": {"datum": {"year": 2019, "month": 1, "date": 1}, "type": "temporal", "scale": {"domain": [{"year": 2019, "month": 1, "date": 1}, {"year": 2021, "month": 2, "date": 19}], "range": [74, 675]}, "axis": {"title": null, "format": "%m.%y", "tickCount": {"interval": "month", "step": 3}, "labelAngle": 270, "labelPadding": 8, "labelFontSize": 15, "labelOverlap": false}},
       "x2": {"datum": {"year": 2021, "month": 2, "date": 19}},
       "y": {"datum": 0, "type": "quantitative", "scale": {"domain": [0, 3], "nice": false}, "axis": {"title": null, "offset": -74, "values": [0, 0.5, 1, 1.5, 2, 2.5, 3], "format": ".1f", "labelFontSize": 16, "tickSize": 7, "labelPadding": 13, "labelOverlap": false}},
       "y2": {"datum": 3}
     }},
    {"transform": [{"fold": ["u2", "u5", "u10"], "as": ["k", "v"]}],
     "mark": {"type": "line", "strokeWidth": 1.5},
     "encoding": {
       "x": {"field": "d", "type": "temporal", "scale": {"domain": [{"year": 2019, "month": 1, "date": 1}, {"year": 2021, "month": 2, "date": 19}], "range": [74, 675]}, "axis": {"title": null, "format": "%m.%y", "tickCount": {"interval": "month", "step": 3}, "labelAngle": 270, "labelPadding": 8, "labelFontSize": 15, "labelOverlap": false}},
       "y": {"field": "v", "type": "quantitative", "scale": {"domain": [0, 3], "nice": false}, "axis": {"title": null, "offset": -74, "values": [0, 0.5, 1, 1.5, 2, 2.5, 3], "format": ".1f", "labelFontSize": 16, "tickSize": 7, "labelPadding": 13, "labelOverlap": false}},
       "color": {"field": "k", "type": "nominal", "scale": {"domain": ["u2", "u5", "u10"], "range": ["#4f81bd", "#a33a3a", "#4d4d4d"]},
         "legend": {"orient": "none", "legendX": 117, "legendY": 320, "direction": "horizontal", "symbolSize": 2500, "labelFontSize": 15, "labelOffset": 6, "columnPadding": 65, "labelExpr": "{'u2': 'USD 2Y', 'u5': 'USD 5Y', 'u10': 'USD 10Y'}[datum.value]"}}
     }}
  ]
 }
 ], "spacing": 20, "bounds": "flush", "resolve": {"scale": {"color": "independent"}}}
]
}
